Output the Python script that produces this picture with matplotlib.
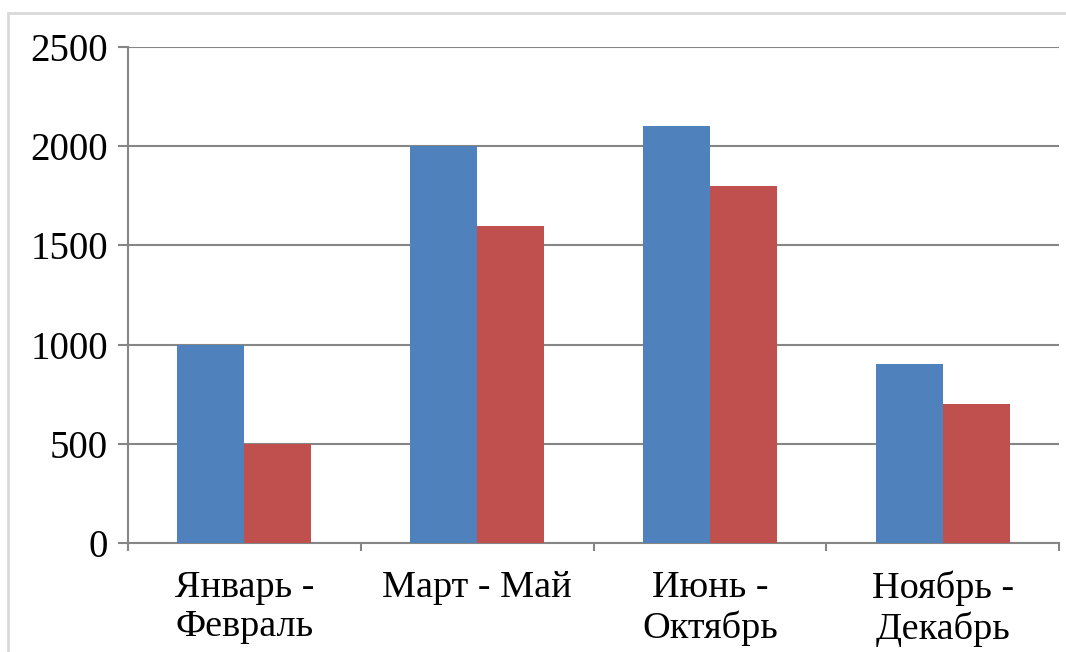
import matplotlib.pyplot as plt
import numpy as np
from matplotlib.patches import Rectangle

plt.rcParams['font.family'] = ['Liberation Serif', 'DejaVu Serif']

categories = ['Январь -\nФевраль', 'Март - Май', 'Июнь -\nОктябрь', 'Ноябрь -\nДекабрь']
series_blue = [1000, 2000, 2100, 900]
series_red = [500, 1600, 1800, 700]
y_ticks = [0, 500, 1000, 1500, 2000, 2500]

BLUE = '#4F81BD'
RED = '#C0504D'
GRID = '#868686'

fig = plt.figure(figsize=(10.66, 6.52), dpi=100)
# outer frame
fig.patches.append(Rectangle((8 / 1066, -0.1), 1.2, (652 - 13) / 652 + 0.1,
                             transform=fig.transFigure, fill=False,
                             edgecolor='#D9D9D9', linewidth=2))

ax = fig.add_axes([128 / 1066, (652 - 543) / 652, (1059 - 128) / 1066, (543 - 47) / 652])

x = np.arange(len(categories))
w = 0.2875
ax.bar(x - w / 2, series_blue, w, color=BLUE, zorder=3)
ax.bar(x + w / 2, series_red, w, color=RED, zorder=3)

ax.set_xlim(-0.5, len(categories) - 0.5)
ax.set_ylim(0, 2500)
ax.set_yticks(y_ticks)
ax.set_yticklabels([str(v) for v in y_ticks], fontsize=28)
ax.grid(axis='y', color=GRID, linewidth=1.5, zorder=0)

# category labels centred, ticks on the boundaries
ax.set_xticks(x)
ax.set_xticklabels(categories, fontsize=27.5, linespacing=1.2)
ax.tick_params(axis='x', length=0, pad=19.5)
ax.set_xticks(np.arange(-0.5, len(categories)), minor=True)
ax.tick_params(axis='x', which='minor', length=6, width=1.5, color=GRID)
ax.tick_params(axis='y', length=7.5, width=1.5, color=GRID, pad=7)

for side in ['top', 'right']:
    ax.spines[side].set_visible(False)
ax.spines['left'].set_color(GRID)
ax.spines['left'].set_linewidth(1.5)
ax.spines['bottom'].set_color(GRID)
ax.spines['bottom'].set_linewidth(1.5)

fig.savefig('out.png', dpi=100)
